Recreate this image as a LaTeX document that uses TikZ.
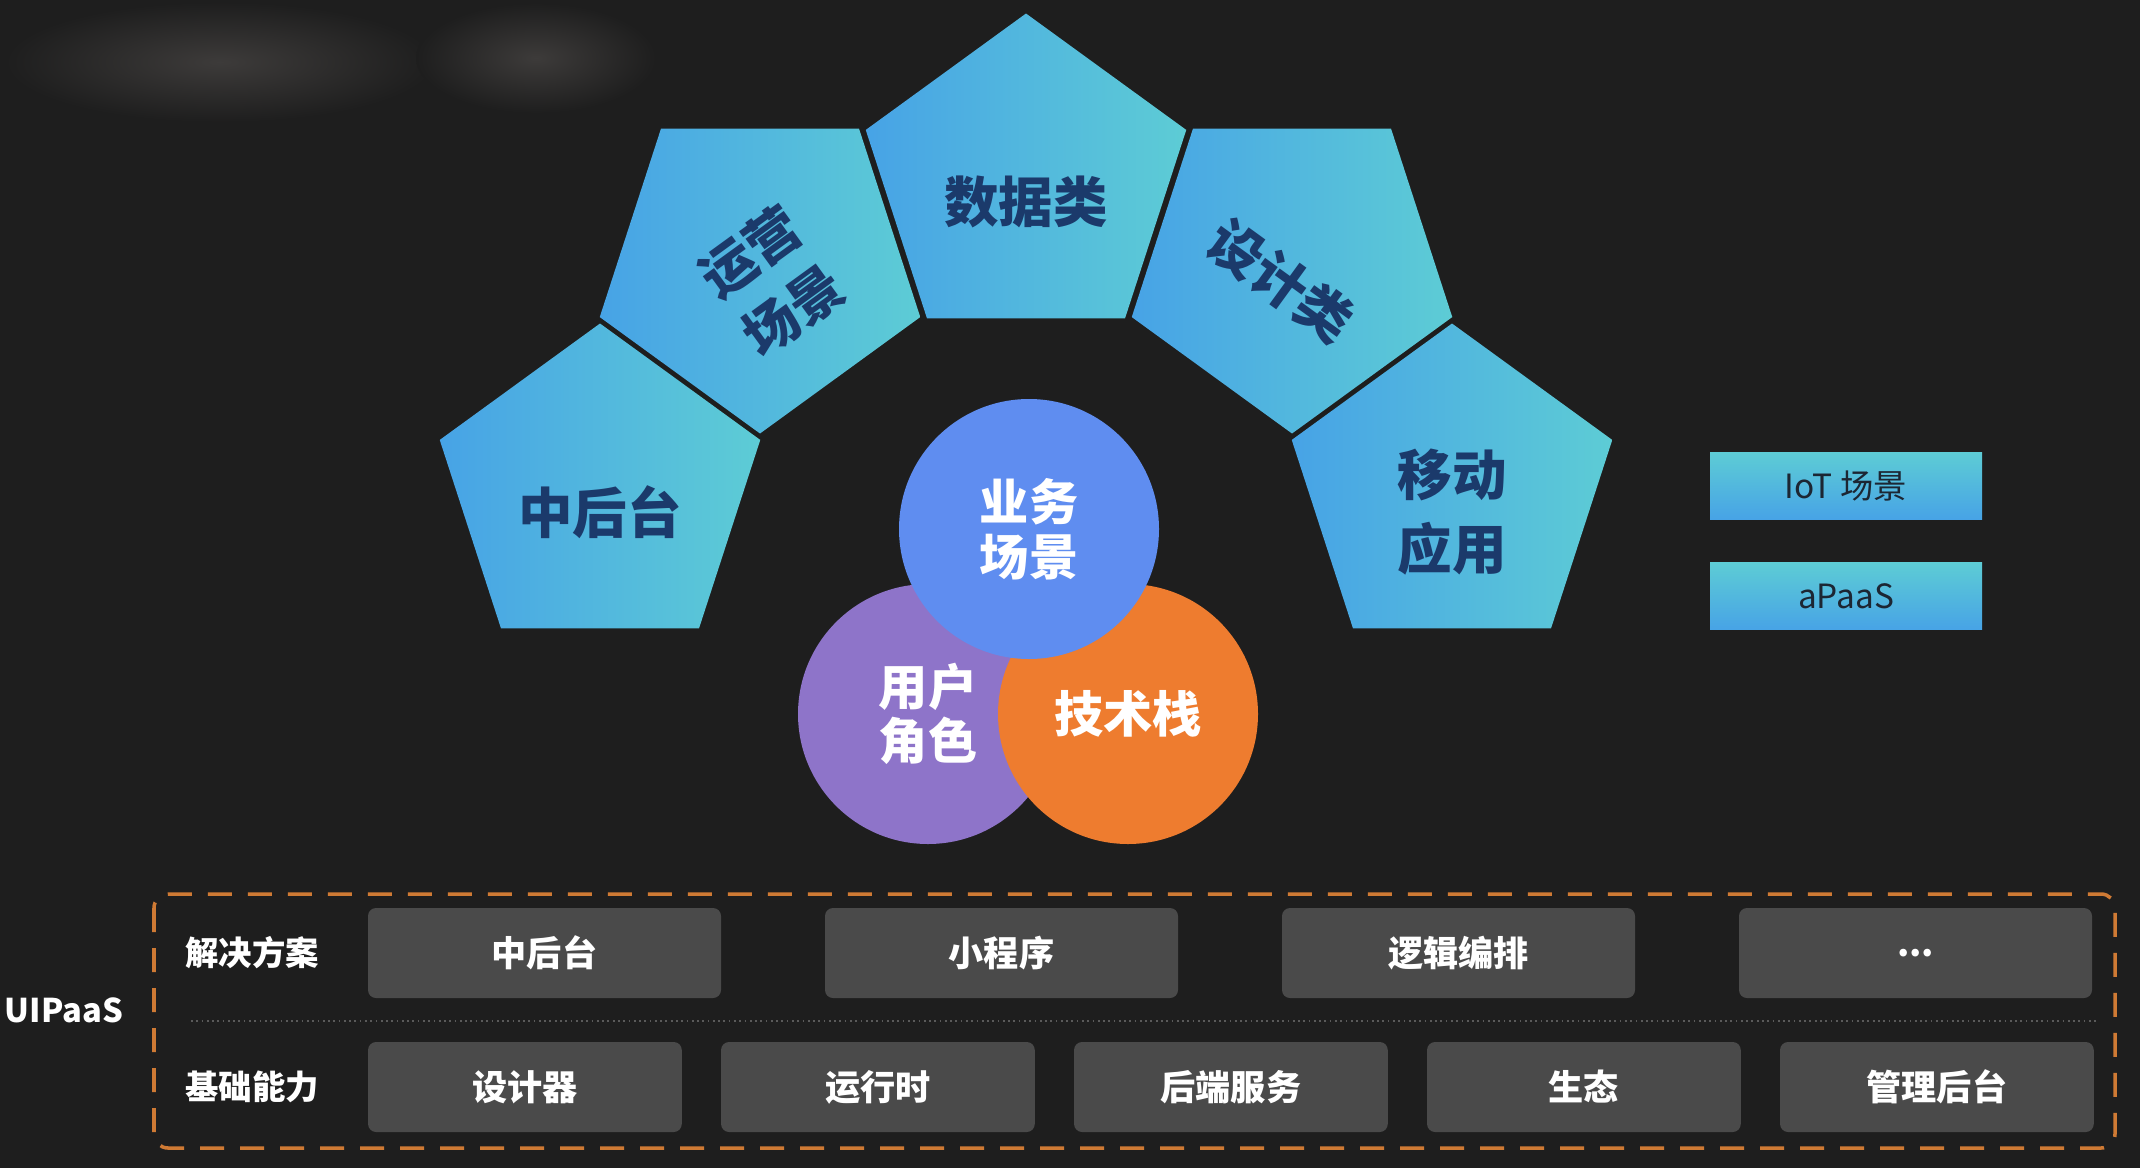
\documentclass[tikz,border=0pt]{standalone}
\usepackage{fontspec}
\setmainfont{Noto Sans CJK SC}
\usetikzlibrary{shapes.geometric, positioning}

\definecolor{bgdark}{HTML}{1E1E1E}
\definecolor{blobgray}{HTML}{3D3B3A}
\definecolor{petblue}{HTML}{47A3E6}
\definecolor{petteal}{HTML}{5DCCD5}
\definecolor{petink}{HTML}{1B3A6B}
\definecolor{tagink}{HTML}{1C2633}
\definecolor{ringblue}{HTML}{5F8DF0}
\definecolor{ringpurple}{HTML}{8E74C9}
\definecolor{ringorange}{HTML}{EE7C2F}
\definecolor{tilegray}{HTML}{4A4A4A}
\definecolor{dashorange}{HTML}{CF7A34}
\definecolor{sepgray}{HTML}{5A5A5A}

\begin{document}
\begin{tikzpicture}[
    x=0.1mm, y=-0.1mm,
    pent/.style={regular polygon, regular polygon sides=5, minimum size=33.7mm, inner sep=0pt, outer sep=0pt, left color=petblue, right color=petteal},
    pentxt/.style={text=petink, font=\fontsize{15.5}{21}\selectfont\bfseries, align=center},
    ring/.style={circle, minimum size=26mm, inner sep=0pt, text=white, font=\fontsize{14}{15.5}\selectfont\bfseries, align=center},
    tag/.style={rectangle, minimum width=27.2mm, minimum height=6.7mm, inner sep=0pt, top color=petteal, bottom color=petblue, text=tagink, font=\fontsize{9.5}{11}\selectfont},
    tile/.style={rectangle, rounded corners=0.8mm, fill=tilegray, text=white, minimum height=9mm, inner sep=0pt, outer sep=0pt, font=\fontsize{10}{12}\selectfont\bfseries},
    rowlabel/.style={text=white, inner sep=0pt, font=\fontsize{9.5}{11}\selectfont\bfseries},
    frame/.style={draw=dashorange, line width=1pt, dash pattern=on 2.4mm off 1.6mm, rounded corners=1.4mm}
]
    \useasboundingbox (0,0) rectangle (2140,1168);
    \fill[bgdark] (0,0) rectangle (2140,1168);
    \shade[inner color=blobgray, outer color=bgdark] (220,62) ellipse (215 and 60);
    \shade[inner color=blobgray, outer color=bgdark] (536,58) ellipse (120 and 55);

    \node[pent] (zht) at (600,492) {};
    \node[pent, rotate=36] (yy) at (760,265) {};
    \node[pent] (sjl) at (1026,182) {};
    \node[pent, rotate=-36] (sjk) at (1292,265) {};
    \node[pent] (yd) at (1452,492) {};

    \node[pentxt] (zhtt) at ([yshift=-2mm]zht.center) {中后台};
    \node[pentxt, rotate=36] (yyt) at ([shift={(-54:2mm)}]yy.center) {运营\\场景};
    \node[pentxt] (sjlt) at ([yshift=-2mm]sjl.center) {数据类};
    \node[pentxt, rotate=-36] (sjkt) at ([shift={(-126:2mm)}]sjk.center) {设计类};
    \node[pentxt] (ydt) at ([yshift=-2mm]yd.center) {移动\\应用};

    \node[ring, fill=ringpurple] (yh) at (928,714) {用户\\角色};
    \node[ring, fill=ringorange] (jsz) at (1128,714) {技术栈};
    \node[ring, fill=ringblue] (yw) at (1029,529) {业务\\场景};

    \node[tag] (iot) at (1846,486) {IoT 场景};
    \node[tag, below=4.2mm of iot] (apaas) {aPaaS};

    \draw[frame] (154,894) rectangle (2115,1148);
    \draw[sepgray, densely dotted, line width=0.5pt] (191,1021) -- (2096,1021);

    \node[rowlabel, font=\fontsize{9.3}{11}\selectfont\bfseries] (uipaas) at (64,1010) {UIPaaS};
    \node[rowlabel] (jjfa) at (252,953) {解决方案};
    \node[rowlabel] (jcnl) at (252,1087) {基础能力};

    \node[tile, minimum width=35.3mm] (zt) at (544.5,953) {中后台};
    \node[tile, minimum width=35.3mm, right=10.4mm of zt] (xcx) {小程序};
    \node[tile, minimum width=35.3mm, right=10.4mm of xcx] (ljbp) {逻辑编排};
    \node[tile, minimum width=35.3mm, right=10.4mm of ljbp] (more) {...};

    \node[tile, minimum width=31.37mm] (sjq) at (524.9,1087) {设计器};
    \node[tile, minimum width=31.37mm, right=3.93mm of sjq] (yxs) {运行时};
    \node[tile, minimum width=31.37mm, right=3.93mm of yxs] (hdfw) {后端服务};
    \node[tile, minimum width=31.37mm, right=3.93mm of hdfw] (st) {生态};
    \node[tile, minimum width=31.37mm, right=3.93mm of st] (glht) {管理后台};
\end{tikzpicture}
\end{document}
